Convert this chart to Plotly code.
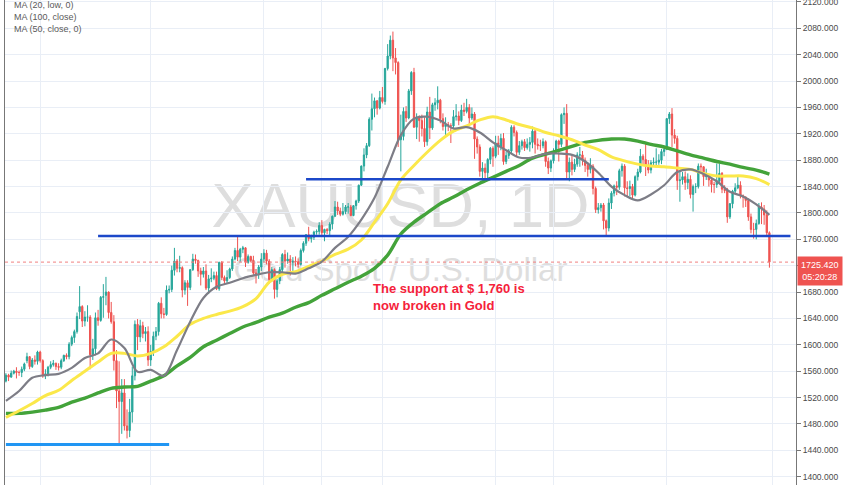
import pandas as pd
import plotly.graph_objects as go

# ---------------- trading calendar (daily bars, weekends + 2 holidays skipped) --------------
HOLIDAYS = ["2020-12-25", "2021-01-01"]
calendar = [d.strftime("%Y-%m-%d") for d in pd.bdate_range("2020-01-15", "2021-03-31")
            if d.strftime("%Y-%m-%d") not in HOLIDAYS]
pos = {d: i for i, d in enumerate(calendar)}

# ---------------- XAUUSD daily OHLC, 2020-01-15 .. 2021-02-26 --------------------------------
opens = [
    1545, 1554, 1551, 1557, 1560, 1558, 1558, 1563, 1576, 1582, 1567, 1577, 1575,
    1589, 1576, 1553, 1556, 1566, 1570, 1572, 1567, 1566, 1576, 1584, 1582, 1601, 1611, 1620, 1650, 1658, 1636, 1642, 1642,
    1585, 1594, 1641, 1637, 1672, 1675, 1680, 1649, 1635, 1576, 1530, 1514, 1527, 1477, 1470, 1498, 1553, 1631, 1612, 1629, 1617, 1620,
    1577, 1590, 1613, 1620, 1663, 1647, 1646, 1683, 1684, 1713, 1727, 1716, 1717, 1683, 1694, 1687, 1714, 1730, 1728, 1712, 1707, 1712,
    1686, 1700, 1701, 1705, 1685, 1725, 1702, 1697, 1702, 1715, 1730, 1743, 1733, 1745, 1747, 1725, 1734, 1728, 1709, 1708, 1718,
    1730, 1739, 1727, 1699, 1714, 1684, 1697, 1714, 1737, 1727, 1730, 1725, 1727, 1726, 1722, 1743, 1754, 1767, 1761, 1763, 1771, 1772,
    1781, 1770, 1775, 1773, 1783, 1795, 1809, 1803, 1798, 1802, 1809, 1809, 1796, 1811, 1818, 1842, 1871, 1888, 1902, 1942, 1958, 1970, 1959,
    1975, 1969, 2019, 2038, 2062, 2035, 2028, 1911, 1916, 1954, 1944, 1985, 2013, 1930, 1945, 1940, 1928, 1908, 1953, 1929, 1964,
    1967, 1971, 1943, 1931, 1934, 1932, 1932, 1946, 1947, 1940, 1956, 1954, 1960, 1944, 1950, 1912, 1900, 1863, 1868, 1861, 1881, 1898,
    1886, 1906, 1900, 1913, 1878, 1887, 1894, 1930, 1922, 1892, 1902, 1908, 1899, 1904, 1907, 1924, 1904, 1902, 1902, 1908, 1878, 1868,
    1879, 1893, 1909, 1904, 1949, 1951, 1862, 1877, 1866, 1874, 1888, 1888, 1880, 1872, 1866, 1871, 1837, 1805, 1808, 1812, 1788,
    1777, 1815, 1830, 1841, 1839, 1864, 1871, 1838, 1837, 1840, 1827, 1855, 1862, 1886, 1881, 1871, 1865, 1876, 1877, 1877, 1880, 1893,
    1896, 1943, 1950, 1918, 1913, 1849, 1850, 1855, 1846, 1851, 1828, 1840, 1840, 1871, 1870, 1855, 1856, 1850, 1843, 1843,
    1848, 1860, 1836, 1834, 1794, 1814, 1833, 1838, 1842, 1826, 1824, 1819, 1794, 1775, 1775, 1784, 1809, 1806, 1797, 1770,
]
highs = [
    1557, 1556, 1561, 1562, 1566, 1561, 1567, 1573, 1588, 1583, 1580, 1584, 1591,
    1591, 1578, 1563, 1568, 1575, 1577, 1573, 1572, 1579, 1585, 1587, 1604, 1614, 1623, 1649, 1689, 1660, 1651, 1660, 1645,
    1609, 1649, 1653, 1674, 1692, 1703, 1681, 1665, 1645, 1592, 1575, 1548, 1548, 1502, 1518, 1567, 1637, 1639, 1638, 1635, 1627, 1628,
    1600, 1620, 1627, 1665, 1672, 1656, 1690, 1690, 1720, 1747, 1730, 1735, 1719, 1698, 1698, 1715, 1738, 1737, 1729, 1717, 1718, 1722,
    1706, 1716, 1711, 1711, 1726, 1727, 1705, 1713, 1717, 1734, 1747, 1765, 1747, 1750, 1748, 1737, 1735, 1735, 1715, 1721, 1739,
    1745, 1744, 1730, 1718, 1716, 1700, 1718, 1739, 1744, 1740, 1736, 1733, 1734, 1731, 1746, 1757, 1768, 1779, 1767, 1773, 1775, 1786,
    1789, 1776, 1777, 1786, 1796, 1818, 1817, 1808, 1815, 1812, 1815, 1812, 1812, 1820, 1843, 1872, 1898, 1906, 1945, 1981, 1975, 1971, 1985,
    1991, 2020, 2056, 2069, 2075, 2050, 2030, 1949, 1960, 1962, 1988, 2015, 2020, 1951, 1948, 1949, 1945, 1961, 1976, 1967, 1974,
    1992, 1973, 1951, 1945, 1938, 1936, 1956, 1965, 1954, 1964, 1967, 1973, 1965, 1960, 1953, 1916, 1904, 1877, 1875, 1883, 1900, 1901,
    1917, 1917, 1920, 1921, 1893, 1897, 1933, 1933, 1925, 1909, 1911, 1912, 1913, 1915, 1931, 1927, 1913, 1911, 1913, 1910, 1884, 1881,
    1898, 1911, 1911, 1951, 1960, 1965, 1884, 1887, 1882, 1892, 1900, 1894, 1884, 1876, 1883, 1874, 1840, 1815, 1815, 1815, 1790,
    1822, 1833, 1843, 1848, 1867, 1875, 1874, 1848, 1849, 1844, 1857, 1867, 1897, 1889, 1907, 1880, 1880, 1884, 1898, 1889, 1897, 1900,
    1944, 1953, 1959, 1927, 1917, 1865, 1862, 1863, 1860, 1857, 1843, 1845, 1875, 1875, 1871, 1867, 1859, 1854, 1847, 1875,
    1875, 1862, 1842, 1838, 1815, 1835, 1845, 1855, 1848, 1828, 1825, 1822, 1799, 1785, 1790, 1815, 1816, 1812, 1804, 1772,
]
lows = [
    1543, 1545, 1550, 1555, 1549, 1553, 1551, 1560, 1572, 1563, 1565, 1570, 1570,
    1573, 1550, 1548, 1552, 1563, 1567, 1562, 1561, 1563, 1574, 1578, 1578, 1598, 1603, 1617, 1639, 1627, 1628, 1635, 1563,
    1577, 1584, 1629, 1635, 1641, 1660, 1640, 1632, 1561, 1504, 1451, 1465, 1470, 1458, 1460, 1482, 1546, 1592, 1604, 1610, 1605, 1568,
    1568, 1583, 1607, 1614, 1640, 1640, 1644, 1678, 1680, 1705, 1710, 1710, 1672, 1676, 1659, 1683, 1712, 1723, 1703, 1690, 1702, 1683,
    1677, 1695, 1698, 1683, 1682, 1698, 1691, 1693, 1700, 1712, 1728, 1727, 1726, 1739, 1718, 1723, 1725, 1706, 1693, 1700, 1712,
    1725, 1722, 1693, 1696, 1670, 1672, 1692, 1710, 1717, 1723, 1705, 1712, 1719, 1717, 1720, 1740, 1750, 1757, 1755, 1759, 1767, 1767,
    1764, 1757, 1768, 1765, 1775, 1794, 1797, 1795, 1796, 1798, 1799, 1795, 1795, 1805, 1815, 1841, 1863, 1883, 1900, 1925, 1945, 1949, 1957,
    1966, 1964, 2016, 2033, 2015, 2010, 1900, 1863, 1910, 1938, 1942, 1979, 1929, 1912, 1908, 1916, 1900, 1902, 1912, 1926, 1955,
    1957, 1936, 1925, 1916, 1924, 1906, 1927, 1940, 1933, 1938, 1947, 1951, 1933, 1941, 1882, 1890, 1855, 1851, 1853, 1850, 1874, 1870,
    1883, 1888, 1895, 1873, 1874, 1882, 1891, 1916, 1885, 1888, 1896, 1894, 1896, 1893, 1898, 1890, 1896, 1894, 1898, 1870, 1859, 1862,
    1875, 1890, 1878, 1900, 1935, 1850, 1848, 1857, 1862, 1870, 1870, 1872, 1862, 1855, 1860, 1828, 1800, 1799, 1802, 1775, 1764,
    1772, 1806, 1825, 1827, 1835, 1855, 1825, 1825, 1825, 1820, 1825, 1849, 1860, 1872, 1856, 1860, 1860, 1870, 1869, 1873, 1874, 1886,
    1896, 1935, 1900, 1905, 1835, 1817, 1843, 1835, 1836, 1822, 1802, 1830, 1837, 1860, 1841, 1850, 1840, 1831, 1830, 1838,
    1848, 1830, 1830, 1785, 1791, 1807, 1830, 1836, 1822, 1808, 1809, 1788, 1769, 1761, 1760, 1782, 1783, 1782, 1766, 1717,
]
closes = [
    1554, 1551, 1557, 1560, 1558, 1558, 1563, 1571, 1582, 1567, 1577, 1575, 1589,
    1576, 1553, 1556, 1566, 1570, 1572, 1567, 1566, 1576, 1584, 1582, 1601, 1611, 1620, 1643, 1658, 1636, 1642, 1642, 1585,
    1594, 1641, 1637, 1672, 1673, 1680, 1649, 1635, 1576, 1530, 1514, 1527, 1477, 1470, 1498, 1553, 1631, 1612, 1629, 1617, 1620, 1577,
    1590, 1613, 1620, 1663, 1647, 1646, 1683, 1684, 1713, 1727, 1716, 1717, 1683, 1694, 1687, 1714, 1730, 1728, 1712, 1707, 1712, 1686,
    1700, 1701, 1705, 1685, 1725, 1702, 1697, 1702, 1715, 1730, 1743, 1733, 1745, 1747, 1725, 1734, 1728, 1709, 1708, 1718, 1730,
    1739, 1727, 1699, 1714, 1684, 1697, 1714, 1737, 1727, 1730, 1725, 1727, 1726, 1722, 1743, 1754, 1767, 1761, 1763, 1771, 1772, 1781,
    1770, 1775, 1773, 1783, 1795, 1809, 1803, 1798, 1802, 1809, 1809, 1796, 1811, 1818, 1842, 1871, 1888, 1902, 1942, 1958, 1970, 1959, 1975,
    1969, 2019, 2038, 2062, 2035, 2028, 1911, 1916, 1954, 1944, 1985, 2013, 1930, 1945, 1940, 1928, 1908, 1953, 1929, 1964, 1967,
    1971, 1943, 1931, 1934, 1932, 1932, 1946, 1947, 1940, 1956, 1954, 1960, 1944, 1950, 1912, 1900, 1863, 1868, 1861, 1881, 1898, 1886,
    1906, 1900, 1913, 1878, 1887, 1894, 1930, 1922, 1892, 1902, 1908, 1899, 1904, 1907, 1924, 1904, 1902, 1902, 1908, 1878, 1868, 1879,
    1893, 1909, 1904, 1949, 1951, 1862, 1877, 1866, 1874, 1888, 1888, 1880, 1872, 1866, 1871, 1837, 1805, 1808, 1812, 1788, 1777,
    1815, 1830, 1841, 1839, 1864, 1871, 1838, 1837, 1840, 1827, 1855, 1862, 1886, 1881, 1871, 1865, 1876, 1877, 1877, 1880, 1893, 1896,
    1943, 1950, 1918, 1913, 1849, 1850, 1855, 1846, 1851, 1828, 1840, 1840, 1871, 1870, 1855, 1856, 1850, 1843, 1843, 1848,
    1860, 1836, 1834, 1794, 1814, 1833, 1838, 1842, 1826, 1824, 1819, 1794, 1775, 1775, 1784, 1809, 1806, 1797, 1770, 1725.42,
]
N = len(closes)
assert len(opens) == len(highs) == len(lows) == N == 291
bar_dates = calendar[:N]

# ---------------- moving averages, read every 5th bar -----------------------------------------
MA_STEP = 5
ma20_low = [1515, 1530, 1550, 1554, 1556, 1565, 1580, 1587, 1608, 1595, 1559, 1562, 1553,
            1592, 1635, 1671, 1688, 1694, 1701, 1706, 1710, 1710, 1708, 1716, 1726,
            1747, 1764, 1790, 1823, 1870, 1918, 1943, 1946, 1940, 1928, 1930,
            1922, 1907, 1895, 1884, 1884, 1890, 1890, 1888, 1878, 1861, 1840, 1827, 1819, 1828,
            1842, 1862, 1866, 1859, 1848, 1832, 1825, 1813, 1797]
ma50_close = [1490, 1500, 1511, 1523, 1531, 1546, 1560, 1574, 1587, 1587, 1583, 1587, 1597,
              1613, 1631, 1640, 1646, 1651, 1658, 1670, 1695, 1707, 1711, 1719, 1727,
              1737, 1745, 1759, 1786, 1814, 1850, 1872, 1892, 1910, 1924, 1932,
              1941, 1946, 1941, 1934, 1929, 1922, 1917, 1911, 1903, 1896, 1885, 1879, 1874, 1871,
              1870, 1868, 1866, 1860, 1856, 1856, 1856, 1852, 1843]
ma100_close = [1496, 1496, 1498, 1501, 1505, 1513, 1519, 1527, 1534, 1536, 1537, 1545, 1553,
               1568, 1581, 1597, 1607, 1617, 1627, 1634, 1642, 1648, 1657, 1664, 1675,
               1685, 1695, 1704, 1716, 1736, 1768, 1786, 1800, 1814, 1824, 1835,
               1845, 1854, 1863, 1872, 1883, 1889, 1895, 1901, 1907, 1910, 1912, 1912, 1909, 1904,
               1900, 1894, 1888, 1883, 1878, 1874, 1869, 1865, 1859]
ma_x = list(range(0, N, MA_STEP))
assert len(ma_x) == len(ma20_low) == len(ma50_close) == len(ma100_close)

# ---------------- drawn horizontal levels ------------------------------------------------------
level_prices = [1765, 1851, 1449]
level_starts = ["2020-03-04", "2020-06-23", "2020-01-15"]
level_ends = ["2021-03-10", "2020-12-01", "2020-04-10"]

grid_dates = ["2020-02-03", "2020-04-01", "2020-06-01", "2020-07-01", "2020-08-03",
              "2020-10-01", "2020-11-02", "2021-01-04", "2021-03-01"]
y_ticks = list(range(1400, 2121, 40))

legend_labels = ["MA (20, low, 0)", "MA (100, close)", "MA (50, close, 0)"]
note_text = "The support at $ 1,760 is<br>now broken in Gold"

UP, DOWN = "#26a69a", "#ef5350"
FONT = "Liberation Sans"

fig = go.Figure()
fig.add_trace(go.Candlestick(
    x=list(range(N)), open=opens, high=highs, low=lows, close=closes,
    increasing=dict(line=dict(color=UP, width=1), fillcolor=UP),
    decreasing=dict(line=dict(color=DOWN, width=1), fillcolor=DOWN),
    whiskerwidth=0, hoverinfo="skip", text=bar_dates))

for vals, color, width in [(ma100_close, "#43a33a", 3.4), (ma50_close, "#fbe84a", 3.0),
                           (ma20_low, "#7d7d86", 2.2)]:
    fig.add_trace(go.Scatter(x=ma_x, y=vals, mode="lines",
                             line=dict(color=color, width=width, shape="spline", smoothing=0.9),
                             hoverinfo="skip"))

level_styles = [("#1c48c9", 2.6), ("#1c48c9", 2.6), ("#2196f3", 3.0)]
for p, s, e, (c, w) in zip(level_prices, level_starts, level_ends, level_styles):
    fig.add_trace(go.Scatter(x=[pos[s], pos[e]], y=[p, p], mode="lines",
                             line=dict(color=c, width=w), hoverinfo="skip"))

# last price dotted line
fig.add_hline(y=closes[-1], line=dict(color="#f08080", width=1, dash="dot"))

# watermark (behind data)
fig.add_shape(type="rect", xref="paper", yref="paper", x0=0.1, x1=0.9, y0=0.52, y1=0.66,
              line_width=0, fillcolor="rgba(0,0,0,0)", layer="below",
              label=dict(text="XAUUSD, 1D", textposition="middle center",
                         font=dict(size=63, color="#dedede", family=FONT)))
fig.add_shape(type="rect", xref="paper", yref="paper", x0=0.1, x1=0.9, y0=0.42, y1=0.48,
              line_width=0, fillcolor="rgba(0,0,0,0)", layer="below",
              label=dict(text="Gold Spot / U.S. Dollar", textposition="middle center",
                         font=dict(size=33, color="#dedede", family=FONT)))

ann = []
for k, t in enumerate(legend_labels):
    ann.append(dict(xref="paper", yref="paper", x=0.009, y=1 - (5 + 12 * k) / 485,
                    xanchor="left", yanchor="middle", showarrow=False, text=t,
                    font=dict(size=9, color="#5a5a5a", family=FONT)))
ann.append(dict(xref="paper", yref="paper", x=(371 - 5) / 791, y=1 - 279 / 485,
                xanchor="left", yanchor="top", align="left", showarrow=False,
                text="<b>" + note_text.replace("<br>", "</b><br><b>") + "</b>",
                font=dict(size=13, color="#f5223a", family=FONT)))
ann.append(dict(xref="paper", yref="y", x=1, y=closes[-1], xanchor="left", yanchor="top",
                xshift=1, yshift=6, showarrow=False,
                text=f"{closes[-1]:.3f}<br>05:20:28", bgcolor=DOWN, borderpad=3,
                font=dict(size=9, color="white", family=FONT)))

fig.update_layout(
    width=852, height=485, margin=dict(l=5, r=56, t=0, b=0, autoexpand=False),
    paper_bgcolor="white", plot_bgcolor="white", showlegend=False,
    annotations=ann,
    xaxis=dict(range=[-0.35, 300.1], rangeslider=dict(visible=False),
               tickvals=[pos[d] for d in grid_dates], showticklabels=False,
               showgrid=True, gridcolor="#e9eef6", gridwidth=1, zeroline=False, ticks="",
               automargin=False),
    yaxis=dict(side="right", range=[1387.4, 2122.9], tickvals=y_ticks, tickformat=".3f",
               showgrid=True, gridcolor="#e9eef6", gridwidth=1, zeroline=False,
               ticks="outside", ticklen=4, tickcolor="#777", showline=True, mirror=True,
               linecolor="#777", linewidth=1, automargin=False, ticklabeloverflow="allow",
               tickfont=dict(size=8.5, color="#4a4a4a", family=FONT)),
)

fig.write_html("out.html", config={"displayModeBar": False},
               post_script="document.body.style.margin='0';document.body.style.overflow='hidden';")
